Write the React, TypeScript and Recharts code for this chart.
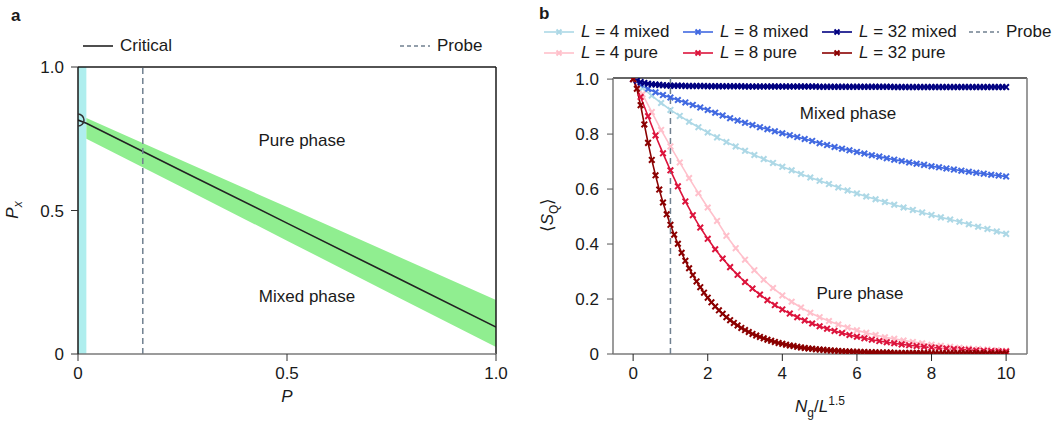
import {
  Area,
  ComposedChart,
  Line,
  ReferenceArea,
  ReferenceLine,
  XAxis,
  YAxis,
} from "recharts";

// panel a: phase diagram
const pGrid = [0, 0.02, 0.25, 0.5, 0.75, 1];
const criticalPx = [0.815, 0.804, 0.637, 0.456, 0.275, 0.094];
const bandUpper = [null, 0.822, 0.673, 0.512, 0.35, 0.188];
const bandLower = [null, 0.75, 0.58, 0.395, 0.209, 0.024];
const probeP = 0.155;

// panel b: <S_Q> vs N_g / L^1.5
const x4 = [
  0, 0.25, 0.5, 0.75, 1, 1.25, 1.5, 1.75, 2, 2.25, 2.5, 2.75, 3, 3.25, 3.5, 3.75, 4, 4.25, 4.5, 4.75, 5,
  5.25, 5.5, 5.75, 6, 6.25, 6.5, 6.75, 7, 7.25, 7.5, 7.75, 8, 8.25, 8.5, 8.75, 9, 9.25, 9.5, 9.75, 10,
];
const mixed4 = [
  1.0, 0.968, 0.94, 0.913, 0.888, 0.866, 0.845, 0.825, 0.806, 0.788, 0.771, 0.755, 0.739, 0.724, 0.709,
  0.695, 0.681, 0.668, 0.655, 0.642, 0.63, 0.618, 0.606, 0.595, 0.584, 0.573, 0.563, 0.553, 0.543, 0.533,
  0.524, 0.515, 0.506, 0.497, 0.489, 0.481, 0.472, 0.463, 0.455, 0.446, 0.437,
];
const pure4 = [
  1.0, 0.945, 0.88, 0.815, 0.755, 0.697, 0.64, 0.585, 0.533, 0.484, 0.43, 0.385, 0.343, 0.305, 0.27,
  0.24, 0.213, 0.19, 0.169, 0.15, 0.134, 0.12, 0.107, 0.096, 0.086, 0.077, 0.069, 0.061, 0.055, 0.049,
  0.044, 0.039, 0.034, 0.03, 0.026, 0.023, 0.02, 0.018, 0.016, 0.014, 0.012,
];

const x8 = [
  0, 0.2, 0.4, 0.6, 0.8, 1, 1.2, 1.4, 1.6, 1.8, 2, 2.2, 2.4, 2.6, 2.8, 3, 3.2, 3.4, 3.6, 3.8, 4, 4.2, 4.4,
  4.6, 4.8, 5, 5.2, 5.4, 5.6, 5.8, 6, 6.2, 6.4, 6.6, 6.8, 7, 7.2, 7.4, 7.6, 7.8, 8, 8.2, 8.4, 8.6, 8.8, 9,
  9.2, 9.4, 9.6, 9.8, 10,
];
const mixed8 = [
  1.0, 0.98, 0.964, 0.952, 0.942, 0.933, 0.924, 0.915, 0.906, 0.897, 0.888, 0.878, 0.868, 0.858, 0.849,
  0.841, 0.833, 0.825, 0.818, 0.81, 0.803, 0.796, 0.789, 0.782, 0.775, 0.767, 0.76, 0.753, 0.747, 0.741,
  0.735, 0.729, 0.723, 0.718, 0.712, 0.707, 0.702, 0.697, 0.692, 0.688, 0.683, 0.679, 0.675, 0.671, 0.667,
  0.663, 0.659, 0.656, 0.652, 0.649, 0.646,
];
const pure8 = [
  1.0, 0.935, 0.865, 0.795, 0.73, 0.668, 0.61, 0.555, 0.505, 0.46, 0.419, 0.381, 0.347, 0.316, 0.288,
  0.262, 0.238, 0.216, 0.196, 0.178, 0.162, 0.147, 0.134, 0.122, 0.111, 0.101, 0.092, 0.084, 0.076, 0.069,
  0.063, 0.057, 0.052, 0.047, 0.043, 0.039, 0.035, 0.032, 0.029, 0.026, 0.024, 0.022, 0.02, 0.018, 0.016,
  0.015, 0.013, 0.012, 0.011, 0.01, 0.009,
];

const x32 = [
  0, 0.1, 0.2, 0.3, 0.4, 0.5, 0.6, 0.7, 0.8, 0.9, 1, 1.1, 1.2, 1.3, 1.4, 1.5, 1.6, 1.7, 1.8, 1.9, 2, 2.1,
  2.2, 2.3, 2.4, 2.5, 2.6, 2.7, 2.8, 2.9, 3, 3.1, 3.2, 3.3, 3.4, 3.5, 3.6, 3.7, 3.8, 3.9, 4, 4.1, 4.2, 4.3,
  4.4, 4.5, 4.6, 4.7, 4.8, 4.9, 5, 5.1, 5.2, 5.3, 5.4, 5.5, 5.6, 5.7, 5.8, 5.9, 6, 6.1, 6.2, 6.3, 6.4, 6.5,
  6.6, 6.7, 6.8, 6.9, 7, 7.1, 7.2, 7.3, 7.4, 7.5, 7.6, 7.7, 7.8, 7.9, 8, 8.1, 8.2, 8.3, 8.4, 8.5, 8.6, 8.7,
  8.8, 8.9, 9, 9.1, 9.2, 9.3, 9.4, 9.5, 9.6, 9.7, 9.8, 9.9, 10,
];
const mixed32 = [
  1.0, 0.994, 0.989, 0.986, 0.983, 0.981, 0.98, 0.979, 0.978, 0.977, 0.976, 0.976, 0.976, 0.976, 0.975,
  0.975, 0.975, 0.975, 0.975, 0.975, 0.974, 0.974, 0.974, 0.974, 0.974, 0.974, 0.974, 0.974, 0.974, 0.974,
  0.973, 0.973, 0.973, 0.973, 0.973, 0.973, 0.973, 0.973, 0.973, 0.973, 0.973, 0.973, 0.973, 0.973, 0.973,
  0.973, 0.973, 0.973, 0.973, 0.973, 0.972, 0.972, 0.972, 0.972, 0.972, 0.972, 0.972, 0.972, 0.972, 0.972,
  0.972, 0.972, 0.972, 0.972, 0.972, 0.972, 0.972, 0.972, 0.972, 0.972, 0.971, 0.971, 0.971, 0.971, 0.971,
  0.971, 0.971, 0.971, 0.971, 0.971, 0.971, 0.971, 0.971, 0.971, 0.971, 0.971, 0.971, 0.971, 0.971, 0.971,
  0.971, 0.971, 0.971, 0.971, 0.971, 0.971, 0.971, 0.971, 0.971, 0.971, 0.971,
];
const pure32 = [
  1.0, 0.965, 0.905, 0.835, 0.768, 0.706, 0.65, 0.598, 0.551, 0.508, 0.47, 0.434, 0.401, 0.368, 0.339,
  0.312, 0.287, 0.264, 0.243, 0.223, 0.205, 0.188, 0.173, 0.159, 0.146, 0.134, 0.123, 0.113, 0.104, 0.095,
  0.087, 0.08, 0.073, 0.067, 0.062, 0.057, 0.052, 0.048, 0.044, 0.04, 0.037, 0.034, 0.031, 0.029, 0.026,
  0.024, 0.022, 0.02, 0.019, 0.017, 0.016, 0.015, 0.014, 0.013, 0.012, 0.011, 0.01, 0.009, 0.009, 0.008,
  0.008, 0.007, 0.007, 0.006, 0.006, 0.006, 0.005, 0.005, 0.005, 0.005, 0.004, 0.004, 0.004, 0.004, 0.004,
  0.004, 0.004, 0.004, 0.004, 0.004, 0.003, 0.003, 0.003, 0.003, 0.003, 0.003, 0.003, 0.003, 0.003, 0.003,
  0.003, 0.003, 0.003, 0.003, 0.003, 0.002, 0.002, 0.002, 0.002, 0.002, 0.002,
];

const xTicksB = [0, 2, 4, 6, 8, 10];
const yTicksB = [0, 0.2, 0.4, 0.6, 0.8, 1.0];
const probeB = 1;

const COLORS = {
  mixed4: "#add8e6",
  mixed8: "#4169e1",
  mixed32: "#000080",
  pure4: "#ffc0cb",
  pure8: "#dc143c",
  pure32: "#8b0000",
  probe: "#708090",
  cyan: "#afeeee",
  green: "#90ee90",
};

const FONT = "'Liberation Sans', Arial, sans-serif";

const phaseRows = pGrid.map((p, i) => ({
  p,
  critical: criticalPx[i],
  band: bandUpper[i] == null ? null : [bandLower[i], bandUpper[i]],
}));

const toPoints = (xs: number[], ys: number[]) => xs.map((x, i) => ({ x, y: ys[i] }));

const series = [
  { key: "mixed4", data: toPoints(x4, mixed4), color: COLORS.mixed4 },
  { key: "mixed8", data: toPoints(x8, mixed8), color: COLORS.mixed8 },
  { key: "mixed32", data: toPoints(x32, mixed32), color: COLORS.mixed32 },
  { key: "pure4", data: toPoints(x4, pure4), color: COLORS.pure4 },
  { key: "pure8", data: toPoints(x8, pure8), color: COLORS.pure8 },
  { key: "pure32", data: toPoints(x32, pure32), color: COLORS.pure32 },
];

const CrossDot = (props: any) => {
  const { cx, cy, stroke, index } = props;
  if (cx == null || cy == null) return <g key={index} />;
  const s = 2.8;
  return (
    <path
      key={index}
      d={`M${cx - s},${cy - s}L${cx + s},${cy + s}M${cx - s},${cy + s}L${cx + s},${cy - s}`}
      stroke={stroke}
      strokeWidth={2}
      fill="none"
    />
  );
};

// open circle at the critical point (P = 0); only the half inside the axes shows
const criticalDot = (props: any) => {
  const { cx, cy, index } = props;
  if (index !== 0 || cx == null || cy == null) return <g key={index} />;
  const r = 6;
  return (
    <path
      key={index}
      d={`M${cx},${cy - r}A${r},${r} 0 0 1 ${cx},${cy + r}`}
      fill="none"
      stroke="#333"
      strokeWidth={1.5}
    />
  );
};

const fmt = (v: number) => (v === 0 ? "0" : v.toFixed(1));

const tickStyle = { fill: "#1a1a1a", fontSize: 17 };

const LegendSample = ({ color, dashed, marker }: { color: string; dashed?: boolean; marker?: boolean }) => (
  <svg width={30} height={10} style={{ display: "block" }}>
    <line
      x1={0}
      y1={5}
      x2={30}
      y2={5}
      stroke={color}
      strokeWidth={1.6}
      strokeDasharray={dashed ? "4 3" : undefined}
    />
    {marker && <path d="M12.5,2.5L17.5,7.5M12.5,7.5L17.5,2.5" stroke={color} strokeWidth={2} />}
  </svg>
);

const LegendItem = ({
  x,
  y,
  color,
  dashed,
  marker,
  children,
}: {
  x: number;
  y: number;
  color: string;
  dashed?: boolean;
  marker?: boolean;
  children: React.ReactNode;
}) => (
  <div
    style={{
      position: "absolute",
      left: x,
      top: y - 10,
      height: 20,
      display: "flex",
      alignItems: "center",
      gap: 7,
      whiteSpace: "nowrap",
    }}
  >
    <LegendSample color={color} dashed={dashed} marker={marker} />
    <span>{children}</span>
  </div>
);

const Abs = ({ x, y, rotate, children, style }: any) => (
  <div
    style={{
      position: "absolute",
      left: x,
      top: y,
      transform: `translate(-50%, -50%)${rotate ? " rotate(-90deg)" : ""}`,
      whiteSpace: "nowrap",
      ...style,
    }}
  >
    {children}
  </div>
);

const L = () => <i>L</i>;

export default function App() {
  return (
    <div
      style={{
        position: "absolute",
        left: 0,
        top: 0,
        width: 1058,
        height: 423,
        background: "#fff",
        fontFamily: FONT,
        fontSize: 17,
        color: "#1a1a1a",
        overflow: "hidden",
      }}
    >
      {/* panel a */}
      <div style={{ position: "absolute", left: 0, top: 0 }}>
        <ComposedChart width={530} height={423} data={phaseRows} margin={{ top: 67, right: 34, left: 38, bottom: 39 }}>
          <XAxis
            dataKey="p"
            type="number"
            domain={[0, 1]}
            ticks={[0, 0.5, 1]}
            tickFormatter={fmt}
            allowDataOverflow
            height={30}
            tick={tickStyle}
            tickSize={7}
            tickMargin={6}
            axisLine={{ stroke: "#7a7a7a", strokeWidth: 1.5 }}
            tickLine={{ stroke: "#333" }}
          />
          <YAxis
            type="number"
            domain={[0, 1]}
            ticks={[0, 0.5, 1]}
            tickFormatter={fmt}
            allowDataOverflow
            width={40}
            tick={tickStyle}
            tickSize={7}
            tickMargin={7}
            axisLine={{ stroke: "#1a1a1a", strokeWidth: 1.5 }}
            tickLine={{ stroke: "#333" }}
          />
          <ReferenceArea x1={0} x2={0.02} y1={0} y2={1} fill={COLORS.cyan} fillOpacity={1} stroke="none" />
          <Area
            dataKey="band"
            type="linear"
            fill={COLORS.green}
            fillOpacity={1}
            stroke="none"
            isAnimationActive={false}
            connectNulls={false}
          />
          <Line
            dataKey="critical"
            type="linear"
            stroke="#222"
            strokeWidth={1.6}
            dot={criticalDot}
            activeDot={false}
            isAnimationActive={false}
          />
          <ReferenceLine x={probeP} stroke={COLORS.probe} strokeWidth={1.5} strokeDasharray="6 4" />
          <ReferenceLine y={1} stroke="#1a1a1a" strokeWidth={1.5} />
          <ReferenceLine x={1} stroke="#1a1a1a" strokeWidth={1.5} />
        </ComposedChart>
      </div>

      {/* panel b */}
      <div style={{ position: "absolute", left: 530, top: 0 }}>
        <ComposedChart width={528} height={423} margin={{ top: 78, right: 31, left: 43, bottom: 39 }}>
          <XAxis
            dataKey="x"
            type="number"
            domain={[-0.54, 10.56]}
            ticks={xTicksB}
            allowDataOverflow
            height={30}
            tick={tickStyle}
            tickSize={7}
            tickMargin={6}
            axisLine={{ stroke: "#7a7a7a", strokeWidth: 1.5 }}
            tickLine={{ stroke: "#222" }}
          />
          <YAxis
            type="number"
            domain={[0, 1.004]}
            ticks={yTicksB}
            tickFormatter={fmt}
            allowDataOverflow
            width={40}
            tick={tickStyle}
            tickSize={6}
            tickMargin={8}
            axisLine={{ stroke: "#7a7a7a", strokeWidth: 1.5 }}
            tickLine={{ stroke: "#555" }}
          />
          <ReferenceLine y={1.004} stroke="#333" strokeWidth={1.5} />
          <ReferenceLine x={10.56} stroke="#7a7a7a" strokeWidth={1.5} />
          {series.map((s) => (
            <Line
              key={s.key}
              data={s.data}
              dataKey="y"
              type="linear"
              stroke={s.color}
              strokeWidth={1.6}
              dot={<CrossDot />}
              isAnimationActive={false}
            />
          ))}
          <ReferenceLine x={probeB} stroke={COLORS.probe} strokeWidth={1.5} strokeDasharray="6 4" />
        </ComposedChart>
      </div>

      {/* panel labels */}
      <div style={{ position: "absolute", left: 11, top: 6, fontWeight: "bold", fontSize: 17 }}>a</div>
      <div style={{ position: "absolute", left: 539, top: 4, fontWeight: "bold", fontSize: 17 }}>b</div>

      {/* legend a */}
      <LegendItem x={83} y={46} color="#222">
        Critical
      </LegendItem>
      <LegendItem x={400} y={46} color={COLORS.probe} dashed>
        Probe
      </LegendItem>

      {/* legend b */}
      <LegendItem x={544} y={32} color={COLORS.mixed4} marker>
        <L /> = 4 mixed
      </LegendItem>
      <LegendItem x={683} y={32} color={COLORS.mixed8} marker>
        <L /> = 8 mixed
      </LegendItem>
      <LegendItem x={822} y={32} color={COLORS.mixed32} marker>
        <L /> = 32 mixed
      </LegendItem>
      <LegendItem x={969} y={32} color={COLORS.probe} dashed>
        Probe
      </LegendItem>
      <LegendItem x={544} y={53} color={COLORS.pure4} marker>
        <L /> = 4 pure
      </LegendItem>
      <LegendItem x={683} y={53} color={COLORS.pure8} marker>
        <L /> = 8 pure
      </LegendItem>
      <LegendItem x={822} y={53} color={COLORS.pure32} marker>
        <L /> = 32 pure
      </LegendItem>

      {/* annotations */}
      <Abs x={302} y={141}>Pure phase</Abs>
      <Abs x={307} y={297}>Mixed phase</Abs>
      <Abs x={848} y={114}>Mixed phase</Abs>
      <Abs x={860} y={294}>Pure phase</Abs>

      {/* axis titles */}
      <Abs x={287} y={397}>
        <i>P</i>
      </Abs>
      <Abs x={14} y={210} rotate>
        <i>P</i>
        <sub style={{ fontSize: 12 }}>
          <i>x</i>
        </sub>
      </Abs>
      <Abs x={820} y={407}>
        <i>N</i>
        <sub style={{ fontSize: 12 }}>g</sub>/<i>L</i>
        <sup style={{ fontSize: 12 }}>1.5</sup>
      </Abs>
      <Abs x={549} y={215} rotate>
        ⟨<i>S</i>
        <sub style={{ fontSize: 12 }}>Q</sub>⟩
      </Abs>
    </div>
  );
}
